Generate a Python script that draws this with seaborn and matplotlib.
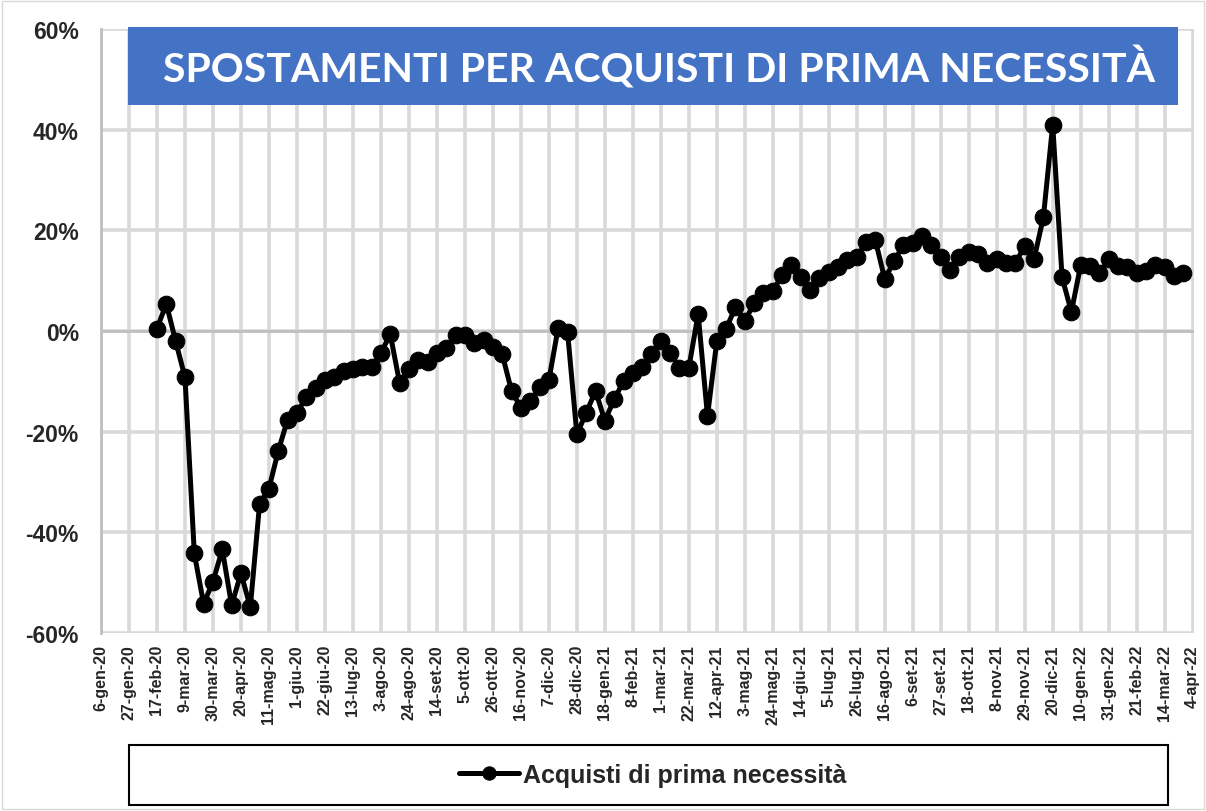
import seaborn as sns
import matplotlib.pyplot as plt
from matplotlib.patches import Rectangle
from matplotlib.ticker import FuncFormatter
import pandas as pd

# weekly values (% change vs baseline)
first_week = '2020-02-17'
values = [0.5, 5.4, -2.0, -9.2, -44.2, -54.2, -49.8, -43.4, -54.5, -48.1,
          -54.9, -34.3, -31.3, -23.8, -17.6, -16.2, -13.2, -11.4, -9.8, -9.2,
          -7.9, -7.6, -7.2, -7.2, -4.4, -0.6, -10.3, -7.6, -5.8, -6.1,
          -4.4, -3.4, -0.7, -0.8, -2.3, -1.8, -3.1, -4.6, -11.9, -15.2,
          -13.9, -11.2, -9.8, 0.7, -0.1, -20.5, -16.3, -11.9, -17.8, -13.6,
          -10.0, -8.3, -7.1, -4.6, -1.9, -4.3, -7.3, -7.3, 3.4, -16.9,
          -2.0, 0.5, 4.7, 1.9, 5.6, 7.5, 8.0, 11.1, 13.1, 10.8,
          8.2, 10.5, 11.8, 12.8, 14.1, 14.7, 17.6, 18.0, 10.3, 13.9,
          17.1, 17.5, 18.9, 17.0, 14.8, 12.1, 14.8, 15.8, 15.3, 13.5,
          14.3, 13.5, 13.6, 16.8, 14.3, 22.6, 41.0, 10.7, 3.8, 13.1,
          12.9, 11.6, 14.3, 12.9, 12.8, 11.6, 12.0, 13.1, 12.8, 10.9, 11.5]

tick_labels = ['6-gen-20', '27-gen-20', '17-feb-20', '9-mar-20', '30-mar-20', '20-apr-20',
               '11-mag-20', '1-giu-20', '22-giu-20', '13-lug-20', '3-ago-20', '24-ago-20',
               '14-set-20', '5-ott-20', '26-ott-20', '16-nov-20', '7-dic-20', '28-dic-20',
               '18-gen-21', '8-feb-21', '1-mar-21', '22-mar-21', '12-apr-21', '3-mag-21',
               '24-mag-21', '14-giu-21', '5-lug-21', '26-lug-21', '16-ago-21', '6-set-21',
               '27-set-21', '18-ott-21', '8-nov-21', '29-nov-21', '20-dic-21', '10-gen-22',
               '31-gen-22', '21-feb-22', '14-mar-22', '4-apr-22']
tick_start = '2020-01-06'
tick_end = '2022-04-04'

series_name = 'Acquisti di prima necessità'
title = 'SPOSTAMENTI PER ACQUISTI DI PRIMA NECESSITÀ'

df = pd.DataFrame({'settimana': pd.date_range(first_week, periods=len(values), freq='7D'),
                   'valore': values})
ticks = pd.date_range(tick_start, tick_end, freq='21D')

sns.set_style('white')
plt.rcParams['font.family'] = ['Liberation Sans', 'DejaVu Sans']

fig = plt.figure(figsize=(12.06, 8.12), dpi=100)
ax = fig.add_axes([101 / 1206, 0.2192, 1093 / 1206, 0.7438])

sns.lineplot(data=df, x='settimana', y='valore', ax=ax, color='black',
             linewidth=3.6, marker='o', markersize=12, markeredgecolor='black',
             label=series_name, legend=False, zorder=5)

ax.set_ylim(-60, 60)
ax.set_yticks(range(-60, 61, 20))
ax.yaxis.set_major_formatter(FuncFormatter(lambda v, p: f'{v:.0f}%'))
ax.set_xlim(ticks[0], ticks[-1] + pd.Timedelta(days=1))
ax.set_xticks(ticks)
ax.set_xticklabels(tick_labels, rotation=90)
ax.set_xlabel('')
ax.set_ylabel('')

for t in ax.get_yticklabels():
    t.set_fontsize(16.5)
    t.set_fontweight('bold')
for t in ax.get_xticklabels():
    t.set_fontsize(11.5)
    t.set_fontweight('bold')
ax.tick_params(axis='y', length=0, pad=16)
ax.tick_params(axis='x', length=0, pad=8)

ax.grid(True, axis='both', color='#d9d9d9', linewidth=2.6)
ax.axhline(0, color='#bfbfbf', linewidth=2, zorder=1)
for s in ['top', 'right', 'bottom']:
    ax.spines[s].set_visible(False)
ax.spines['left'].set_color('#bfbfbf')
ax.spines['left'].set_linewidth(2)

# title box
fig.patches.append(Rectangle((128 / 1206, 1 - 106 / 812), 1050 / 1206, 78 / 812,
                             transform=fig.transFigure, facecolor='#4472c4',
                             edgecolor='none', zorder=10))
fig.text(659 / 1206, 1 - 68 / 812, title, ha='center', va='center', color='white',
         fontsize=29.5, fontweight='bold', family='Lato', zorder=11)

# legend box
fig.patches.append(Rectangle((129 / 1206, 1 - 806 / 812), 1039 / 1206, 60 / 812,
                             transform=fig.transFigure, facecolor='white',
                             edgecolor='black', linewidth=1.5))
handles, labels = ax.get_legend_handles_labels()
fig.legend(handles, labels, loc='center', bbox_to_anchor=(653 / 1206, 1 - 776 / 812),
           frameon=False, prop={'weight': 'bold', 'size': 18},
           handlelength=2.4, handletextpad=0.15, markerscale=0.8)

fig.patches.append(Rectangle((0.002, 0.002), 0.996, 0.996, transform=fig.transFigure,
                             facecolor='none', edgecolor='#d9d9d9', linewidth=1))

fig.savefig('out.png', dpi=100)
